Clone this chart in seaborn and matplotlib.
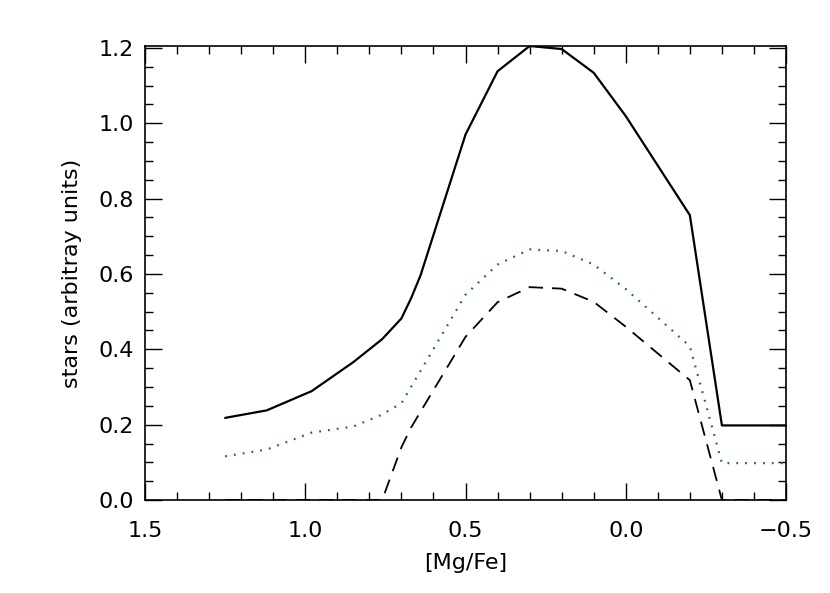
import matplotlib
matplotlib.use("Agg")
import matplotlib.pyplot as plt
import seaborn as sns
import pandas as pd
from matplotlib.ticker import MultipleLocator

# [Mg/Fe] grid and the three curves
mgfe = [1.25, 1.12, 0.98, 0.85, 0.76, 0.70, 0.67, 0.64, 0.50, 0.40,
        0.30, 0.20, 0.10, 0.00, -0.20, -0.30, -0.50]
total = [0.218, 0.238, 0.289, 0.366, 0.427, 0.482, 0.535, 0.597, 0.970, 1.138,
         1.205, 1.197, 1.134, 1.019, 0.756, 0.198, 0.198]
dotted = [0.116, 0.134, 0.179, 0.195, 0.227, 0.257, 0.300, 0.343, 0.545, 0.625,
          0.665, 0.661, 0.625, 0.560, 0.408, 0.098, 0.098]
dashed = [0.0, 0.0, 0.0, 0.0, 0.0, 0.140, 0.192, 0.235, 0.433, 0.525,
          0.565, 0.561, 0.526, 0.460, 0.318, 0.0, 0.0]

xticks = [1.5, 1.0, 0.5, 0.0, -0.5]
xticklabels = ["1.5", "1.0", "0.5", "0.0", "\u22120.5"]
yticks = [0.0, 0.2, 0.4, 0.6, 0.8, 1.0, 1.2]

df = pd.DataFrame({"mgfe": mgfe, "total": total, "dotted": dotted, "dashed": dashed})

sns.set_style("ticks")
plt.rcParams["font.family"] = ["DejaVu Sans"]
plt.rcParams["text.color"] = "black"
plt.rcParams["axes.labelcolor"] = "black"
plt.rcParams["xtick.color"] = "black"
plt.rcParams["ytick.color"] = "black"

fig = plt.figure(figsize=(8.3, 5.93), dpi=100)
ax = fig.add_axes([0.1747, 0.1568, 0.9470 - 0.1747, 0.9224 - 0.1568])

sns.lineplot(data=df, x="mgfe", y="total", ax=ax, color="black", lw=1.6,
             sort=False, estimator=None)
sns.lineplot(data=df, x="mgfe", y="dotted", ax=ax, color="#235a87", lw=1.6,
             sort=False, estimator=None, linestyle=(0, (0.8, 3.2)))
sns.lineplot(data=df, x="mgfe", y="dashed", ax=ax, color="black", lw=1.3,
             sort=False, estimator=None, linestyle=(0, (8, 5)))

ax.set_xlim(1.5, -0.5)
ax.set_ylim(0.0, 1.205)
ax.set_xticks(xticks)
ax.set_xticklabels(xticklabels)
ax.set_yticks(yticks)
ax.set_yticklabels([f"{v:.1f}" for v in yticks])
ax.xaxis.set_minor_locator(MultipleLocator(0.1))
ax.yaxis.set_minor_locator(MultipleLocator(0.05))

ax.tick_params(which="both", direction="in", top=True, right=True,
               labelsize=16, width=1.0)
ax.tick_params(axis="x", which="major", pad=15)
ax.tick_params(axis="y", which="major", pad=8)
ax.tick_params(which="major", length=12)
ax.tick_params(which="minor", length=6)
for s in ax.spines.values():
    s.set_linewidth(1.2)
    s.set_color("black")

ax.set_xlabel("[Mg/Fe]", fontsize=16, labelpad=9)
ax.set_ylabel("stars (arbitray units)", fontsize=16, labelpad=12)

fig.savefig("out.png", dpi=100)
